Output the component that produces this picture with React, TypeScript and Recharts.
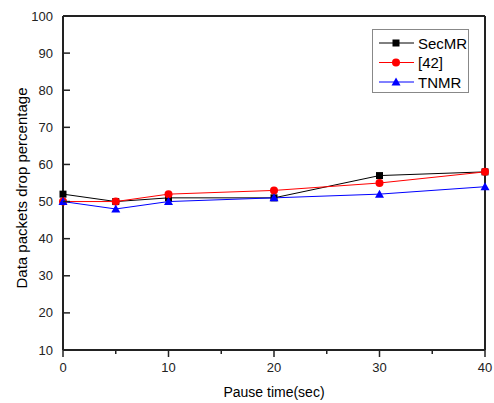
import React from 'react';
import { LineChart, Line, XAxis, YAxis, Legend, ReferenceLine, Label } from 'recharts';

const pauseTimes = [0, 5, 10, 20, 30, 40];
const secMR = [52, 50, 51, 51, 57, 58];
const ref42 = [50, 50, 52, 53, 55, 58];
const tnmr = [50, 48, 50, 51, 52, 54];
const xTicks = [0, 5, 10, 15, 20, 25, 30, 35, 40];
const xLabelTicks = [0, 10, 20, 30, 40];
const yTicks = [10, 20, 30, 40, 50, 60, 70, 80, 90, 100];
const seriesNames = ['SecMR', '[42]', 'TNMR'];

const data = pauseTimes.map((t, i) => ({ t, secMR: secMR[i], ref42: ref42[i], tnmr: tnmr[i] }));

const FONT = 'Liberation Sans, Arial, sans-serif';
const AXIS = '#222';

const Square = (props: any) => {
  const { cx, cy, fill } = props;
  if (cx == null || cy == null) return null;
  return <rect key={`s${cx}`} x={cx - 3.5} y={cy - 3.5} width={7} height={7} fill={fill} />;
};
const Circle = (props: any) => {
  const { cx, cy, fill } = props;
  if (cx == null || cy == null) return null;
  return <circle key={`c${cx}`} cx={cx} cy={cy} r={4} fill={fill} />;
};
const Tri = (props: any) => {
  const { cx, cy, fill } = props;
  if (cx == null || cy == null) return null;
  return <polygon key={`t${cx}`} points={`${cx},${cy - 4.5} ${cx - 4.5},${cy + 3.5} ${cx + 4.5},${cy + 3.5}`} fill={fill} />;
};

const XTick = (props: any) => {
  const { x, y, payload } = props;
  const major = xLabelTicks.includes(payload.value);
  return (
    <g>
      <line x1={x} x2={x} y1={y} y2={y + (major ? 7 : 4)} stroke={AXIS} strokeWidth={1.5} />
      {major && (
        <text x={x} y={y + 22} textAnchor="middle" fontSize={13} fontFamily={FONT} fill="#222">
          {payload.value}
        </text>
      )}
    </g>
  );
};

const YTick = (props: any) => {
  const { x, y, payload } = props;
  return (
    <g>
      <line x1={x} x2={x + 7} y1={y} y2={y} stroke={AXIS} strokeWidth={1.5} />
      <text x={x - 10} y={y + 4.5} textAnchor="end" fontSize={13} fontFamily={FONT} fill="#222">
        {payload.value}
      </text>
    </g>
  );
};

const legendItems = [
  { name: seriesNames[0], color: '#000000', shape: 'square' },
  { name: seriesNames[1], color: '#ff0000', shape: 'circle' },
  { name: seriesNames[2], color: '#0000ff', shape: 'triangle' },
];

const LegendContent = () => (
  <svg width={98} height={65} style={{ display: 'block' }}>
    <rect x={0.5} y={0.5} width={96} height={63} fill="#fff" stroke="#888" strokeWidth={1} />
    {legendItems.map((it, i) => {
      const cy = 14 + i * 19.5;
      return (
        <g key={it.name}>
          <line x1={7} x2={42} y1={cy} y2={cy} stroke={it.color} strokeWidth={1} />
          {it.shape === 'square' && <rect x={20.5} y={cy - 3.5} width={7} height={7} fill={it.color} />}
          {it.shape === 'circle' && <circle cx={24} cy={cy} r={4} fill={it.color} />}
          {it.shape === 'triangle' && (
            <polygon points={`24,${cy - 4.5} 19.5,${cy + 3.5} 28.5,${cy + 3.5}`} fill={it.color} />
          )}
          <text x={46} y={cy + 5.5} fontSize={15} fontFamily={FONT} fill="#000">
            {it.name}
          </text>
        </g>
      );
    })}
  </svg>
);

export default function App() {
  return (
    <div style={{ position: 'absolute', left: 0, top: 0, width: 494, height: 403, background: '#fff' }}>
      <LineChart
        width={494}
        height={403}
        data={data}
        margin={{ top: 16, right: 9, bottom: 8, left: 0 }}
        style={{ fontFamily: FONT }}
      >
        <XAxis
          dataKey="t"
          type="number"
          domain={[0, 40]}
          ticks={xTicks}
          interval={0}
          tickSize={0}
          tickMargin={0}
          tickLine={false}
          tick={<XTick />}
          height={45}
          axisLine={{ stroke: AXIS, strokeWidth: 2 }}
        >
          <Label
            content={() => (
              <text x={274} y={397} textAnchor="middle" fontSize={14} fontFamily={FONT} fill="#000">
                Pause time(sec)
              </text>
            )}
          />
        </XAxis>
        <YAxis
          type="number"
          domain={[10, 100]}
          ticks={yTicks}
          interval={0}
          width={63}
          tickSize={0}
          tickMargin={0}
          tickLine={false}
          tick={<YTick />}
          axisLine={{ stroke: AXIS, strokeWidth: 2 }}
        >
          <Label
            content={() => (
              <text
                x={27}
                y={188}
                transform="rotate(-90 27 188)"
                textAnchor="middle"
                fontSize={15}
                fontFamily={FONT}
                fill="#000"
              >
                Data packets drop percentage
              </text>
            )}
          />
        </YAxis>
        <ReferenceLine y={100} stroke={AXIS} strokeWidth={2} />
        <ReferenceLine x={40} stroke={AXIS} strokeWidth={2} />
        <Legend
          layout="horizontal"
          verticalAlign="middle"
          align="center"
          content={<LegendContent />}
          wrapperStyle={{ top: 29, left: 372, width: 98, height: 65 }}
        />
        <Line
          dataKey="secMR"
          name={seriesNames[0]}
          stroke="#000000"
          strokeWidth={1}
          fill="#000000"
          dot={<Square />}
          activeDot={false}
          isAnimationActive={false}
        />
        <Line
          dataKey="ref42"
          name={seriesNames[1]}
          stroke="#ff0000"
          strokeWidth={1}
          fill="#ff0000"
          dot={<Circle />}
          activeDot={false}
          isAnimationActive={false}
        />
        <Line
          dataKey="tnmr"
          name={seriesNames[2]}
          stroke="#0000ff"
          strokeWidth={1}
          fill="#0000ff"
          dot={<Tri />}
          activeDot={false}
          isAnimationActive={false}
        />
      </LineChart>
    </div>
  );
}
